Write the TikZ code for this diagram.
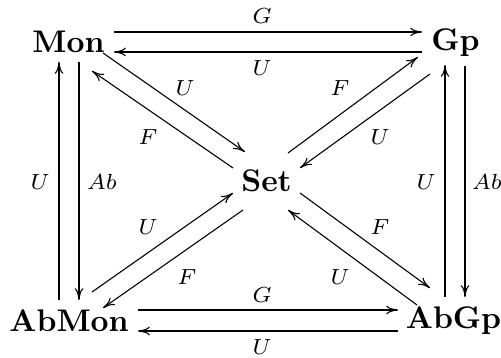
\documentclass[tikz,border=0pt]{standalone}
\usetikzlibrary{arrows.meta}
\begin{document}
\begin{tikzpicture}[x=0.32pt,y=-0.32pt,
  obj/.style={inner sep=0pt,anchor=base,font=\bfseries},
  lbl/.style={inner sep=0pt,font=\fontsize{6.6}{8}\selectfont},
  arr/.style={line width=0.35pt,-{To[length=3.8pt,width=2.8pt]}}]
\useasboundingbox (0,0) rectangle (501,358);
% objects
\node[obj] (mon) at (68.5,53) {Mon};
\node[obj] (gp) at (455.5,51) {Gp};
\node[obj] (set) at (266.5,192) {Set};
\node[obj] (abmon) at (69,332) {AbMon};
\node[obj] (abgp) at (453.5,329) {AbGp};
% horizontal
\draw[arr] ([shift={(45.5,-21)}]mon.base) -- ([shift={(-33.5,-19)}]gp.base);
\draw[arr] ([shift={(-33.5,1)}]gp.base) -- ([shift={(45.5,-1)}]mon.base);
\draw[arr] ([shift={(69,-22)}]abmon.base) -- ([shift={(-55.5,-19)}]abgp.base);
\draw[arr] ([shift={(-55.5,2)}]abgp.base) -- ([shift={(69,-1)}]abmon.base);
% vertical
\draw[arr] ([shift={(-10,-32)}]abmon.base) -- ([shift={(-9.5,9)}]mon.base);
\draw[arr] ([shift={(10.5,9)}]mon.base) -- ([shift={(10,-32)}]abmon.base);
\draw[arr] ([shift={(-8.5,-32)}]abgp.base) -- ([shift={(-10.5,14)}]gp.base);
\draw[arr] ([shift={(9.5,15)}]gp.base) -- ([shift={(11.5,-32)}]abgp.base);
% diagonals
\draw[arr] ([shift={(34.5,0)}]mon.base) -- ([shift={(-21.5,-40)}]set.base);
\draw[arr] ([shift={(-33.5,-24)}]set.base) -- ([shift={(23.5,18)}]mon.base);
\draw[arr] ([shift={(21.5,-39)}]set.base) -- ([shift={(-37.5,6)}]gp.base);
\draw[arr] ([shift={(-25.5,23)}]gp.base) -- ([shift={(33.5,-24)}]set.base);
\draw[arr] ([shift={(23,-40)}]abmon.base) -- ([shift={(-33.5,1)}]set.base);
\draw[arr] ([shift={(-23.5,18)}]set.base) -- ([shift={(34,-24)}]abmon.base);
\draw[arr] ([shift={(33.5,1)}]set.base) -- ([shift={(-23.5,-41)}]abgp.base);
\draw[arr] ([shift={(-36.5,-24)}]abgp.base) -- ([shift={(21.5,18)}]set.base);
% labels
\node[lbl] (l1) at (262,16) {$G$};
\node[lbl] (l2) at (262,68) {$U$};
\node[lbl] (l3) at (262,295) {$G$};
\node[lbl] (l4) at (262,347) {$U$};
\node[lbl] (l5) at (40,182) {$U$};
\node[lbl] (l6) at (102,182) {$Ab$};
\node[lbl] (l7) at (426,182) {$U$};
\node[lbl] (l8) at (487,182) {$Ab$};
\node[lbl] (l9) at (185,88) {$U$};
\node[lbl] (l10) at (148,137) {$F$};
\node[lbl] (l11) at (340,88) {$F$};
\node[lbl] (l12) at (380,137) {$U$};
\node[lbl] (l13) at (148,227) {$U$};
\node[lbl] (l14) at (187,277) {$F$};
\node[lbl] (l15) at (380,227) {$F$};
\node[lbl] (l16) at (340,277) {$U$};
\end{tikzpicture}
\end{document}
